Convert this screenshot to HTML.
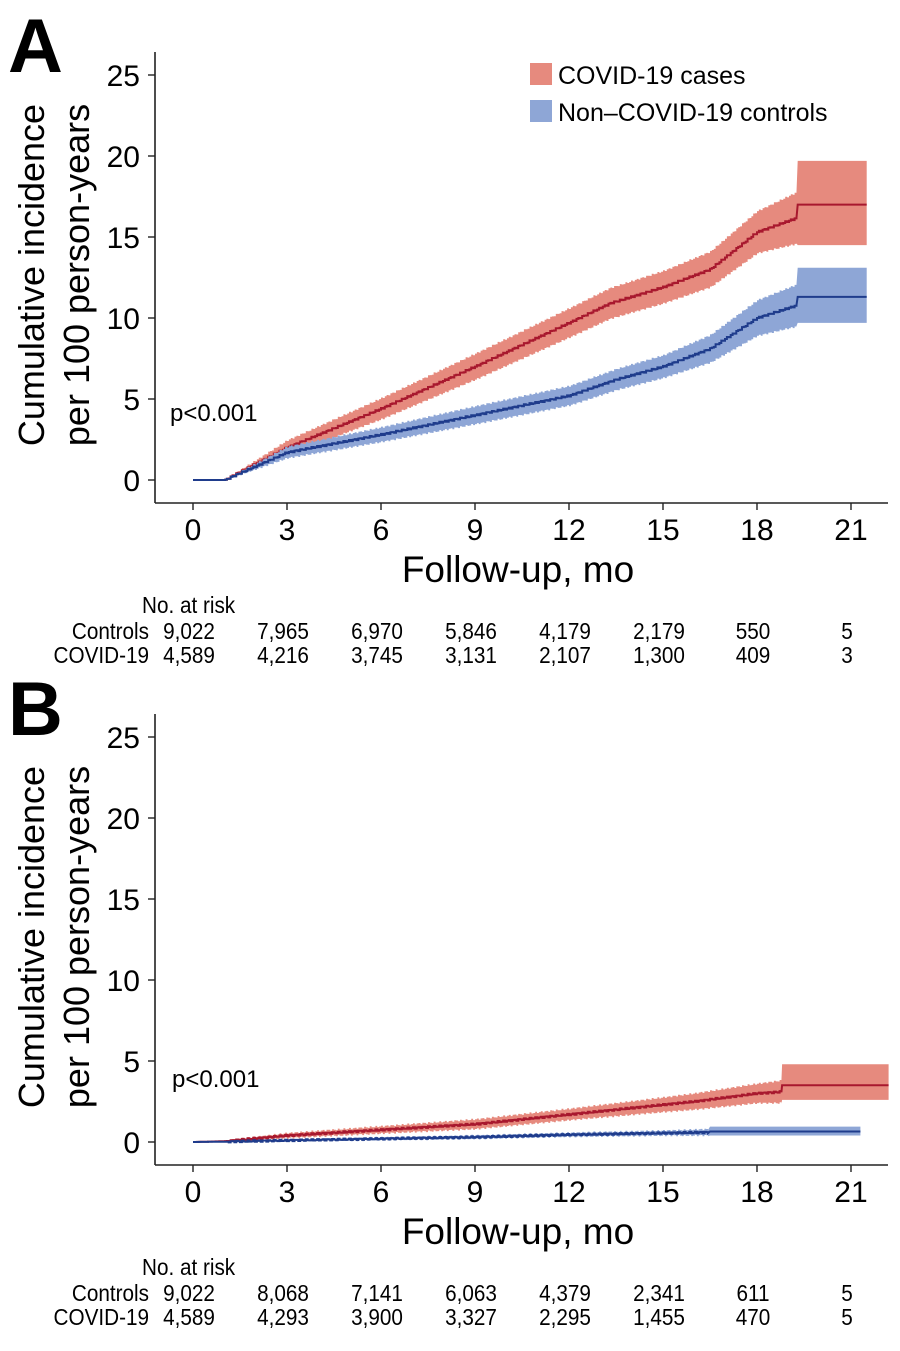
<!DOCTYPE html>
<html><head><meta charset="utf-8"><style>
html,body{margin:0;padding:0;background:#fff;}
svg{display:block;font-family:"Liberation Sans",sans-serif;}
</style></head><body>
<svg id="s" width="900" height="1351" viewBox="0 0 900 1351" xmlns="http://www.w3.org/2000/svg">
<g id="A"></g><g id="B"></g>
<text x="8" y="72" font-size="76" font-weight="bold">A</text>
<text x="8" y="735" font-size="76" font-weight="bold">B</text>
<g font-size="25">
<rect x="530" y="63" width="22" height="22" fill="#e68a7e"/>
<text x="558" y="84">COVID-19 cases</text>
<rect x="530" y="100" width="22" height="22" fill="#8ea6d6"/>
<text x="558" y="121">Non–COVID-19 controls</text>
</g>
<g font-size="24">
<text x="170" y="421">p&lt;0.001</text>
<text x="172" y="1087">p&lt;0.001</text>
</g>
</svg>
<script>
const S=document.getElementById('s');
const NS='http://www.w3.org/2000/svg';
function el(p,t,a,txt){const e=document.createElementNS(NS,t);for(const k in a)e.setAttribute(k,a[k]);if(txt!==undefined)e.textContent=txt;p.appendChild(e);return e;}
function interp(pts,x){for(let i=1;i<pts.length;i++){if(x<=pts[i][0]){const a=pts[i-1],b=pts[i];const t=(x-a[0])/(b[0]-a[0]||1);return [a[1]+t*(b[1]-a[1]),a[2]+t*(b[2]-a[2])];}}const l=pts[pts.length-1];return [l[1],l[2]];}
function panel(g,y0,risk,curves){
  const X=m=>193+m*31.333, Y=v=>y0-v*16.2;
  el(g,'line',{x1:155,y1:y0-428,x2:155,y2:y0+23,stroke:'#222','stroke-width':1.6});
  el(g,'line',{x1:155,y1:y0+23,x2:888,y2:y0+23,stroke:'#222','stroke-width':1.6});
  for(let v=0;v<=25;v+=5){el(g,'line',{x1:148,y1:Y(v),x2:155,y2:Y(v),stroke:'#222','stroke-width':1.4});
    el(g,'text',{x:140,y:Y(v)+11,'font-size':30,'text-anchor':'end'},String(v));}
  for(let m=0;m<=21;m+=3){el(g,'line',{x1:X(m),y1:y0+23,x2:X(m),y2:y0+30,stroke:'#222','stroke-width':1.4});
    el(g,'text',{x:X(m),y:y0+60,'font-size':30,'text-anchor':'middle'},String(m));}
  el(g,'text',{x:518,y:y0+102,'font-size':37,'text-anchor':'middle'},'Follow-up, mo');
  const yl=el(g,'g',{transform:`translate(44,${y0-205}) rotate(-90)`,'font-size':36,'text-anchor':'middle'});
  el(yl,'text',{x:0,y:0},'Cumulative incidence');
  el(yl,'text',{x:0,y:45},'per 100 person-years');
  const rt=el(g,'g',{'font-size':23});
  function nt(x,y,s,anchor){el(rt,'text',{x:0,y:0,'text-anchor':anchor,transform:`translate(${x},${y}) scale(0.9,1)`},s);}
  nt(142,y0+133,'No. at risk','start');
  nt(149,y0+159,'Controls','end');nt(149,y0+183,'COVID-19','end');
  risk.forEach((r,i)=>{const x=X(i*3)-4;nt(x,y0+159,r[0],'middle');nt(x,y0+183,r[1],'middle');});
  curves.forEach(c=>{
    let up=[],lo=[],mid=[];
    let prev=null;
    for(let m=0;m<=c.end+0.0001;m+=0.06){
      let v=interp(c.pts,m);let jit=(m>1.1&&m<c.flat)?Math.sin(m*37)*0.05:0;
      let val=v[0]+jit, w=v[1];
      const x=X(m);
      if(prev!==null){mid.push([x,Y(prev[0])]);up.push([x,Y(prev[0]+prev[1])]);lo.push([x,Y(prev[0]-prev[1])]);}
      mid.push([x,Y(val)]);up.push([x,Y(val+w)]);lo.push([x,Y(val-w)]);
      prev=[val,w];
    }
    if(c.final){const f=c.final;const x1=X(f[0]),x2=X(c.end);
      while(mid.length&&mid[mid.length-1][0]>x1){mid.pop();up.pop();lo.pop();}
      mid.push([x1,Y(f[1])],[x2,Y(f[1])]);up.push([x1,Y(f[3])],[x2,Y(f[3])]);lo.push([x1,Y(f[2])],[x2,Y(f[2])]);}
    let d='M'+up.map(p=>p[0].toFixed(1)+','+p[1].toFixed(1)).join('L')+'L'+lo.reverse().map(p=>p[0].toFixed(1)+','+p[1].toFixed(1)).join('L')+'Z';
    el(g,'path',{d:d,fill:c.band,stroke:'none'});
    el(g,'path',{d:'M'+mid.map(p=>p[0].toFixed(1)+','+p[1].toFixed(1)).join('L'),fill:'none',stroke:c.line,'stroke-width':2});
  });
}
panel(document.getElementById('A'),480,
 [['9,022','4,589'],['7,965','4,216'],['6,970','3,745'],['5,846','3,131'],['4,179','2,107'],['2,179','1,300'],['550','409'],['5','3']],
 [
 {band:'#e68a7e',line:'#a8182e',end:21.5,flat:19.3,final:[19.3,17,14.5,19.7],
  pts:[[0,0,0],[1,0,0],[3,2,0.45],[4.5,3.2,0.55],[6,4.4,0.65],[9,7,0.8],[12,9.7,0.9],[13.3,10.9,0.95],[15,11.9,1],[16.5,13,1.1],[18,15.3,1.3],[19.3,16.2,1.6],[21.5,17,2.5]]},
 {band:'#8ea6d6',line:'#1f3c8c',end:21.5,flat:19.3,final:[19.3,11.3,9.7,13.1],
  pts:[[0,0,0],[1,0,0],[3,1.7,0.35],[6,2.8,0.45],[9,4,0.55],[12,5.2,0.6],[13.5,6.2,0.65],[15,7,0.7],[16.5,8.1,0.85],[18,10,1.1],[19.3,10.8,1.3],[21.5,11.3,1.7]]}
 ]);
panel(document.getElementById('B'),1142,
 [['9,022','4,589'],['8,068','4,293'],['7,141','3,900'],['6,063','3,327'],['4,379','2,295'],['2,341','1,455'],['611','470'],['5','5']],
 [
 {band:'#e68a7e',line:'#a8182e',end:22.2,flat:18.8,final:[18.8,3.5,2.6,4.8],
  pts:[[0,0,0],[1,0.05,0.03],[3,0.4,0.15],[6,0.75,0.22],[9,1.1,0.3],[12,1.7,0.35],[15,2.3,0.45],[16,2.5,0.5],[18,3,0.6],[18.8,3.1,0.7],[22.2,3.5,1]]},
 {band:'#8ea6d6',line:'#1f3c8c',end:21.3,flat:16.5,final:[16.5,0.65,0.4,0.95],
  pts:[[0,0,0],[1,0.02,0.02],[3,0.1,0.05],[6,0.2,0.08],[9,0.3,0.1],[12,0.45,0.12],[15,0.55,0.15],[16.5,0.6,0.2],[21.3,0.65,0.25]]}
 ]);
</script>
</body></html>
